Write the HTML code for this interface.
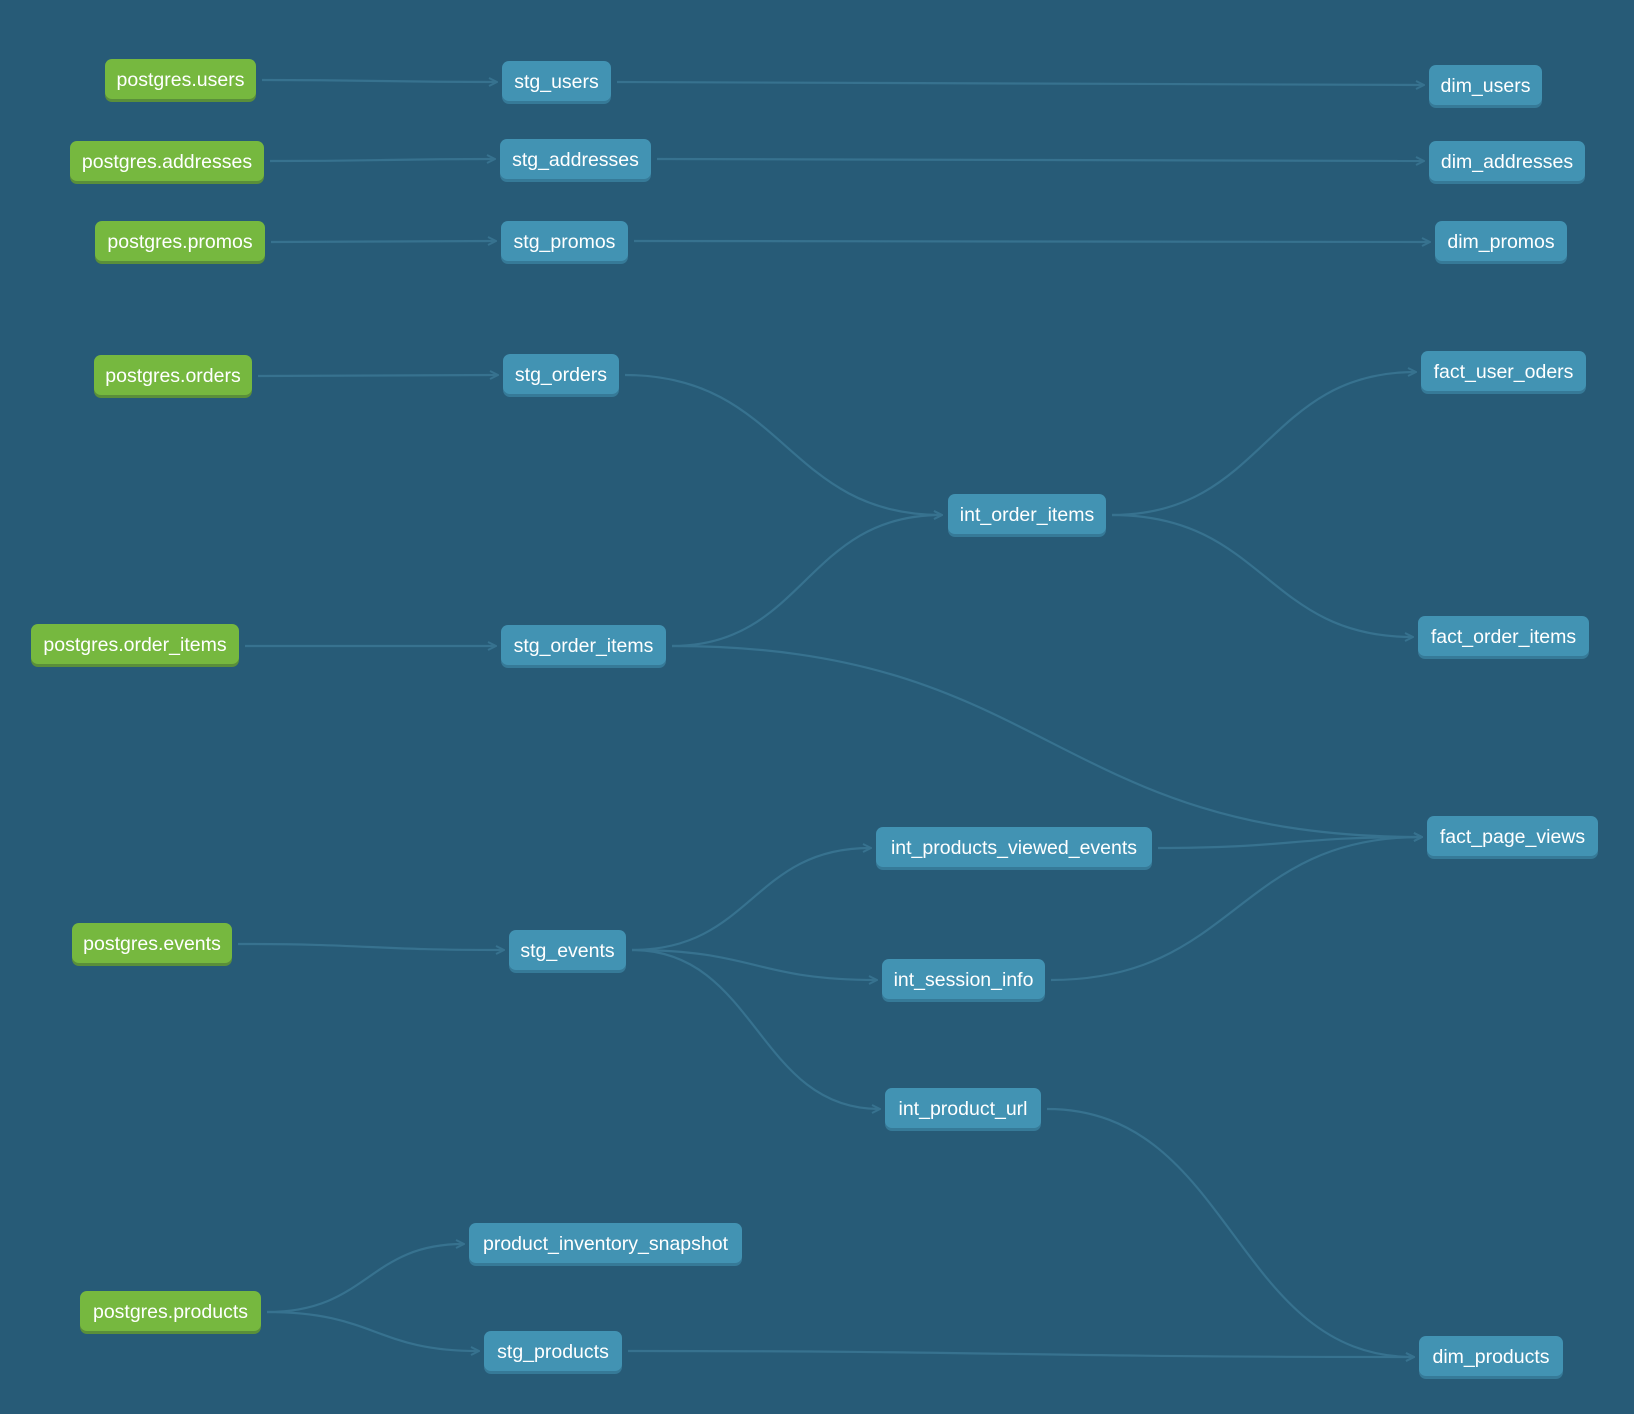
<!DOCTYPE html>
<html><head><meta charset="utf-8"><style>
html,body{margin:0;padding:0}
body{width:1634px;height:1414px;background:#275b77;position:relative;overflow:hidden;font-family:"Liberation Sans",Arial,sans-serif}
.n{position:absolute;height:40px;border-radius:7px;color:#fff;font-size:19.5px;display:flex;align-items:center;justify-content:center;box-sizing:border-box;white-space:nowrap;padding-top:3px}
.g{background:#76b83f;box-shadow:0 3px 0 #5a8f3a}
.b{background:#4293b3;box-shadow:0 3px 0 #367a98}
svg{position:absolute;left:0;top:0}
path{fill:none;stroke:#37728f;stroke-width:2.2}
</style></head><body>
<svg width="1634" height="1414">
<defs><marker id="a" markerWidth="10" markerHeight="10" refX="8" refY="5" orient="auto" markerUnits="userSpaceOnUse"><path d="M1 1 L9 5 L1 9" style="stroke:#37728f;stroke-width:2;fill:none"/></marker></defs>
<g marker-end="url(#a)">
<path d="M262 80 C380 80 380 82 496 82"/>
<path d="M617 82 C1020 82 1020 85 1423 85"/>
<path d="M270 161 C385 161 385 159 494 159"/>
<path d="M657 159 C1040 159 1040 161 1423 161"/>
<path d="M271 242 C385 242 385 241 495 241"/>
<path d="M634 241 C1030 241 1030 242 1429 242"/>
<path d="M258 376 C380 376 380 375 497 375"/>
<path d="M625 375 C785 375 785 515 941 515"/>
<path d="M245 646 C370 646 370 646 495 646"/>
<path d="M672 646 C805 646 805 515 941 515"/>
<path d="M672 646 C1050 646 1050 837 1421 837"/>
<path d="M1112 515 C1265 515 1265 372 1415 372"/>
<path d="M1112 515 C1265 515 1265 637 1412 637"/>
<path d="M238 944 C370 944 370 950 503 950"/>
<path d="M632 950 C752 950 752 848 870 848"/>
<path d="M632 950 C755 950 755 980 876 980"/>
<path d="M632 950 C757 950 757 1109 879 1109"/>
<path d="M1158 848 C1290 848 1290 837 1421 837"/>
<path d="M1051 980 C1236 980 1236 837 1421 837"/>
<path d="M1047 1109 C1233 1109 1233 1357 1413 1357"/>
<path d="M267 1312 C368 1312 368 1244 463 1244"/>
<path d="M267 1312 C375 1312 375 1351 478 1351"/>
<path d="M628 1351 C1020 1351 1020 1357 1413 1357"/>
</g>
</svg>
<div class="n g" style="left:105px;top:59px;width:151px">postgres.users</div>
<div class="n g" style="left:70px;top:141px;width:194px">postgres.addresses</div>
<div class="n g" style="left:95px;top:221px;width:170px">postgres.promos</div>
<div class="n g" style="left:94px;top:355px;width:158px">postgres.orders</div>
<div class="n g" style="left:31px;top:624px;width:208px">postgres.order_items</div>
<div class="n g" style="left:72px;top:923px;width:160px">postgres.events</div>
<div class="n g" style="left:80px;top:1291px;width:181px">postgres.products</div>
<div class="n b" style="left:502px;top:61px;width:109px">stg_users</div>
<div class="n b" style="left:500px;top:139px;width:151px">stg_addresses</div>
<div class="n b" style="left:501px;top:221px;width:127px">stg_promos</div>
<div class="n b" style="left:503px;top:354px;width:116px">stg_orders</div>
<div class="n b" style="left:501px;top:625px;width:165px">stg_order_items</div>
<div class="n b" style="left:509px;top:930px;width:117px">stg_events</div>
<div class="n b" style="left:469px;top:1223px;width:273px">product_inventory_snapshot</div>
<div class="n b" style="left:484px;top:1331px;width:138px">stg_products</div>
<div class="n b" style="left:948px;top:494px;width:158px">int_order_items</div>
<div class="n b" style="left:876px;top:827px;width:276px">int_products_viewed_events</div>
<div class="n b" style="left:882px;top:959px;width:163px">int_session_info</div>
<div class="n b" style="left:885px;top:1088px;width:156px">int_product_url</div>
<div class="n b" style="left:1429px;top:65px;width:113px">dim_users</div>
<div class="n b" style="left:1429px;top:141px;width:156px">dim_addresses</div>
<div class="n b" style="left:1435px;top:221px;width:132px">dim_promos</div>
<div class="n b" style="left:1421px;top:351px;width:165px">fact_user_oders</div>
<div class="n b" style="left:1418px;top:616px;width:171px">fact_order_items</div>
<div class="n b" style="left:1427px;top:816px;width:171px">fact_page_views</div>
<div class="n b" style="left:1419px;top:1336px;width:144px">dim_products</div>
</body></html>
